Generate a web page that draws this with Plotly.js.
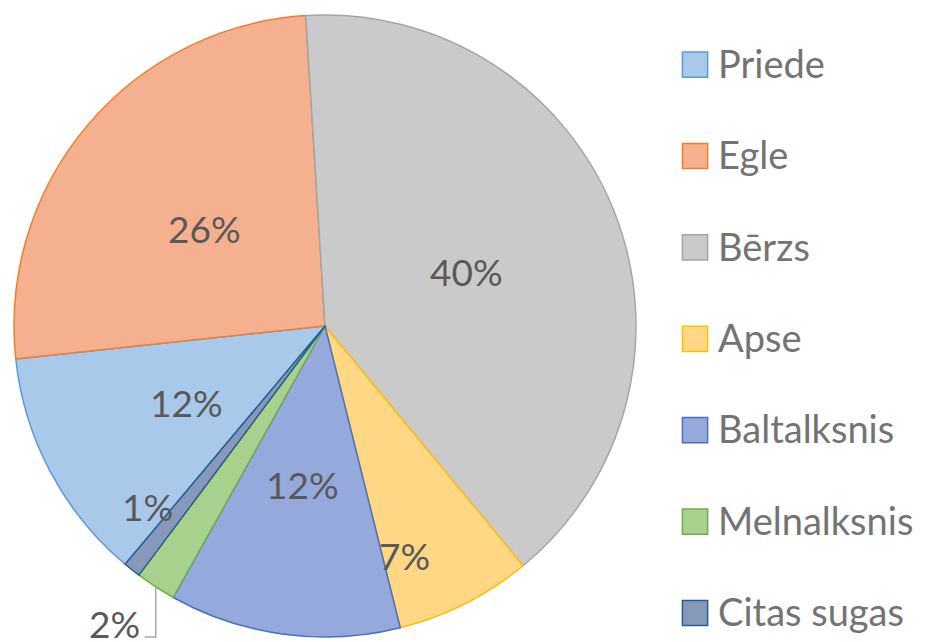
<!DOCTYPE html>
<html>
<head>
<meta charset="utf-8">
<script src="https://cdn.plot.ly/plotly-3.0.1.min.js"></script>
<style>
html,body{margin:0;padding:0;background:#fff;}
#chart{width:925px;height:642px;}
#chart .legend path.legendpie{transform:translate(17px,0px) scale(2.1);vector-effect:non-scaling-stroke;}
</style>
</head>
<body>
<div id="chart"></div>
<script>
// ---- data ----
const labels = ["Priede", "Egle", "Bērzs", "Apse", "Baltalksnis", "Melnalksnis", "Citas sugas"];
const values = [12.2, 25.7, 40.0, 7.1, 12.0, 2.1, 0.9];

// ---- style ----
const fillColors = ["#A9C9EB", "#F5B08F", "#CACACA", "#FFD785", "#95A9DC", "#A9D18E", "#8699BB"];
const lineColors = ["#5B9BD5", "#ED7D31", "#A5A5A5", "#FFC000", "#4472C4", "#70AD47", "#255E91"];
// label placement (fraction of radius, angle shift in degrees); null = outside with leader line
const labelRadius = [0.508, 0.498, 0.489, 0.782, 0.516, null, 0.814];
const labelShift = [-1, -1, 0.5, 7.8, 0.3, 0, 6];

const W = 925, H = 642;
const domX = [0.01514, 0.6876], domY = [0.0078, 0.9766];
const rotation = 220;
const FONT = "Lato, 'Open Sans', sans-serif";

// legend entries: larger text, with a spacer line to widen the gap between entries
const legendLabels = labels.map((l, i) =>
  '<span style="font-size:38px">' + l + '</span>' + (i < labels.length - 1 ? '<br> ' : ''));

const trace = {
  type: "pie",
  labels: legendLabels,
  values: values,
  sort: false,
  direction: "clockwise",
  rotation: rotation,
  marker: { colors: fillColors, line: { color: lineColors, width: 1.5 } },
  textinfo: "none",
  domain: { x: domX, y: domY },
  hoverinfo: "none"
};

// geometry of the pie as Plotly lays it out
const cx = (domX[0] + domX[1]) / 2 * W;
const cy = (1 - (domY[0] + domY[1]) / 2) * H;
const R = Math.min((domX[1] - domX[0]) * W, (domY[1] - domY[0]) * H) / 2;
const total = values.reduce((a, b) => a + b, 0);

const annotations = [];
const shapes = [];
let ang = rotation;
values.forEach((v, i) => {
  const span = v / total * 360;
  const mid = ang + span / 2;
  ang += span;
  const txt = Math.round(v / total * 100) + "%";
  if (labelRadius[i] !== null) {
    const a = (mid + labelShift[i]) * Math.PI / 180;
    const r = labelRadius[i] * R;
    const px = cx + r * Math.sin(a), py = cy - r * Math.cos(a);
    annotations.push({
      xref: "paper", yref: "paper", x: px / W, y: 1 - py / H,
      xanchor: "center", yanchor: "middle", showarrow: false,
      text: txt, font: { family: FONT, size: 37, color: "#595959" }
    });
  } else {
    const a = mid * Math.PI / 180;
    const ex = cx + R * Math.sin(a), ey = cy - R * Math.cos(a);
    const by = ey + 50, bx = ex - 11;
    const toP = (x, y) => (x / W) + "," + (1 - y / H);
    shapes.push({
      type: "path", xref: "paper", yref: "paper",
      path: "M" + toP(ex, ey) + " L" + toP(ex, by) + " L" + toP(bx, by),
      line: { color: "#A6A6A6", width: 1.5 }
    });
    annotations.push({
      xref: "paper", yref: "paper", x: (bx - 3) / W, y: 1 - (by - 13) / H,
      xanchor: "right", yanchor: "middle", showarrow: false,
      text: txt, font: { family: FONT, size: 37, color: "#595959" }
    });
  }
});

const layout = {
  width: W, height: H,
  margin: { l: 0, r: 0, t: 0, b: 0 },
  paper_bgcolor: "#ffffff",
  showlegend: true,
  legend: {
    x: 0.733, xanchor: "left", y: 0.9324, yanchor: "top",
    valign: "top",
    font: { family: FONT, size: 34, color: "#737373" },
    bgcolor: "rgba(0,0,0,0)"
  },
  annotations: annotations,
  shapes: shapes
};

Plotly.newPlot("chart", [trace], layout, { displayModeBar: false, staticPlot: true });
</script>
</body>
</html>
